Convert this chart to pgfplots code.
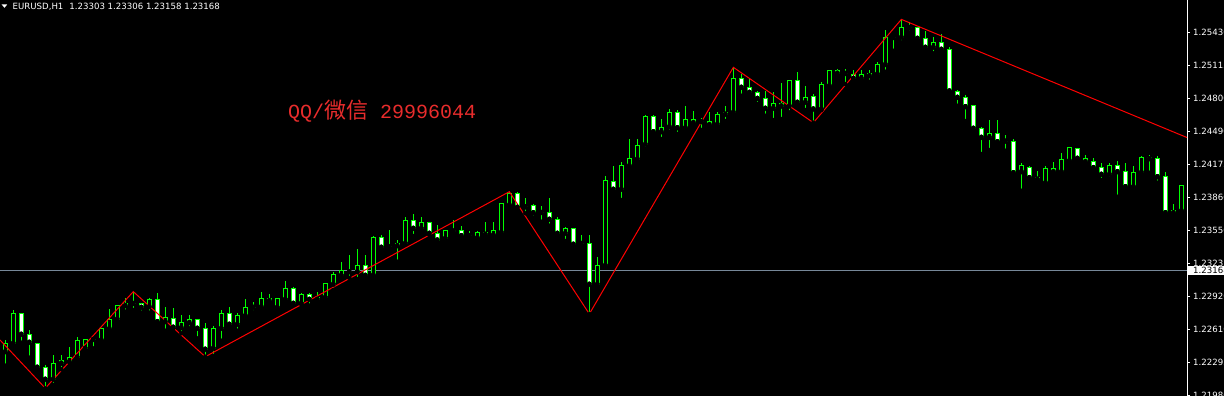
\documentclass[border=0pt]{standalone}
\usepackage{pgfplots}
\pgfplotsset{compat=1.18}
\usepackage{pgfplotstable}
\usepackage{fontspec}
\setmainfont{DejaVu Sans}
\newfontfamily\qqfont{Liberation Mono}
\newfontfamily\cjk{Noto Sans CJK SC}
\definecolor{candle}{RGB}{0,255,0}
\definecolor{zz}{RGB}{255,0,0}
\definecolor{pline}{RGB}{119,136,153}
\definecolor{wm}{RGB}{232,44,44}
\pgfplotstableread{
i o h l c
0 1.22398 1.22509 1.22265 1.22471
1 1.22478 1.22794 1.22455 1.22762
2 1.22762 1.22768 1.22483 1.22563
3 1.22563 1.22604 1.22341 1.22487
4 1.22478 1.22481 1.22240 1.22250
5 1.22250 1.22272 1.22051 1.22136
6 1.22136 1.22367 1.22082 1.22288
7 1.22310 1.22367 1.22231 1.22288
8 1.22303 1.22445 1.22300 1.22345
9 1.22345 1.22540 1.22319 1.22500
10 1.22430 1.22519 1.22398 1.22516
11 1.22516 1.22519 1.22430 1.22514
12 1.22509 1.22623 1.22500 1.22620
13 1.22616 1.22800 1.22604 1.22706
14 1.22708 1.22841 1.22692 1.22832
15 1.22835 1.22905 1.22778 1.22857
16 1.22857 1.22968 1.22794 1.22855
17 1.22857 1.22860 1.22768 1.22819
18 1.22825 1.22905 1.22768 1.22895
19 1.22895 1.22952 1.22680 1.22683
20 1.22683 1.22819 1.22597 1.22725
21 1.22715 1.22810 1.22620 1.22630
22 1.22626 1.22746 1.22573 1.22677
23 1.22673 1.22746 1.22620 1.22699
24 1.22699 1.22702 1.22525 1.22620
25 1.22620 1.22668 1.22350 1.22421
26 1.22430 1.22642 1.22357 1.22620
27 1.22620 1.22794 1.22502 1.22762
28 1.22762 1.22825 1.22635 1.22658
29 1.22658 1.22768 1.22597 1.22746
30 1.22740 1.22895 1.22740 1.22819
31 1.22819 1.22873 1.22772 1.22818
32 1.22825 1.22968 1.22803 1.22905
33 1.22905 1.22946 1.22867 1.22882
34 1.22819 1.22908 1.22817 1.22905
35 1.22895 1.23072 1.22889 1.23000
36 1.23000 1.23015 1.22848 1.22857
37 1.22857 1.22958 1.22848 1.22936
38 1.22936 1.22952 1.22835 1.22895
39 1.22895 1.22968 1.22863 1.22914
40 1.22914 1.23053 1.22905 1.23041
41 1.23038 1.23152 1.22984 1.23126
42 1.23123 1.23247 1.23119 1.23164
43 1.23157 1.23316 1.23098 1.23161
44 1.23157 1.23370 1.23088 1.23212
45 1.23212 1.23316 1.23119 1.23123
46 1.23126 1.23496 1.23110 1.23484
47 1.23484 1.23506 1.23380 1.23389
48 1.23399 1.23553 1.23385 1.23392
49 1.23404 1.23458 1.23252 1.23427
50 1.23427 1.23680 1.23420 1.23642
51 1.23642 1.23705 1.23496 1.23569
52 1.23569 1.23674 1.23531 1.23623
53 1.23623 1.23632 1.23506 1.23522
54 1.23522 1.23601 1.23442 1.23458
55 1.23474 1.23547 1.23433 1.23544
56 1.23542 1.23648 1.23537 1.23544
57 1.23553 1.23591 1.23458 1.23499
58 1.23499 1.23544 1.23465 1.23501
59 1.23480 1.23544 1.23474 1.23531
60 1.23531 1.23632 1.23506 1.23512
61 1.23506 1.23632 1.23499 1.23544
62 1.23531 1.23803 1.23522 1.23800
63 1.23791 1.23917 1.23769 1.23895
64 1.23895 1.23917 1.23743 1.23769
65 1.23776 1.23860 1.23712 1.23773
66 1.23781 1.23803 1.23670 1.23717
67 1.23721 1.23781 1.23632 1.23719
68 1.23721 1.23854 1.23594 1.23655
69 1.23655 1.23672 1.23509 1.23522
70 1.23522 1.23582 1.23449 1.23563
71 1.23563 1.23566 1.23411 1.23418
72 1.23427 1.23506 1.23385 1.23425
73 1.23427 1.23506 1.22756 1.23038
74 1.23038 1.23297 1.23006 1.23218
75 1.23218 1.24066 1.23214 1.24023
76 1.24017 1.24161 1.23907 1.23940
77 1.23940 1.24202 1.23838 1.24170
78 1.24164 1.24417 1.24154 1.24234
79 1.24227 1.24417 1.24208 1.24360
80 1.24367 1.24645 1.24322 1.24635
81 1.24635 1.24645 1.24455 1.24486
82 1.24486 1.24607 1.24417 1.24528
83 1.24534 1.24699 1.24486 1.24671
84 1.24671 1.24692 1.24465 1.24524
85 1.24524 1.24730 1.24512 1.24604
86 1.24604 1.24683 1.24534 1.24572
87 1.24581 1.24612 1.24503 1.24583
88 1.24588 1.24673 1.24541 1.24553
89 1.24557 1.24671 1.24534 1.24654
90 1.24652 1.24730 1.24588 1.24671
91 1.24671 1.25098 1.24661 1.24993
92 1.24993 1.25034 1.24828 1.24908
93 1.24908 1.24987 1.24819 1.24860
94 1.24860 1.24876 1.24749 1.24803
95 1.24803 1.24876 1.24638 1.24709
96 1.24709 1.24860 1.24597 1.24756
97 1.24756 1.24952 1.24607 1.24730
98 1.24730 1.24973 1.24671 1.24971
99 1.24971 1.25050 1.24733 1.24766
100 1.24766 1.24920 1.24692 1.24813
101 1.24819 1.24844 1.24572 1.24702
102 1.24702 1.24955 1.24692 1.24930
103 1.24923 1.25075 1.24904 1.25072
104 1.25072 1.25082 1.25009 1.25041
105 1.25041 1.25082 1.24939 1.25039
106 1.25025 1.25072 1.24971 1.24993
107 1.24993 1.25072 1.24952 1.25025
108 1.25018 1.25072 1.24961 1.25041
109 1.25034 1.25151 1.25025 1.25129
110 1.25126 1.25452 1.25056 1.25383
111 1.25383 1.25404 1.25255 1.25381
112 1.25383 1.25553 1.25335 1.25477
113 1.25477 1.25531 1.25430 1.25476
114 1.25477 1.25480 1.25341 1.25373
115 1.25373 1.25445 1.25255 1.25288
116 1.25288 1.25383 1.25231 1.25335
117 1.25335 1.25414 1.25255 1.25269
118 1.25269 1.25288 1.24835 1.24873
119 1.24868 1.24882 1.24733 1.24813
120 1.24813 1.24835 1.24588 1.24724
121 1.24737 1.24740 1.24486 1.24519
122 1.24519 1.24534 1.24275 1.24433
123 1.24433 1.24597 1.24313 1.24471
124 1.24471 1.24597 1.24389 1.24391
125 1.24398 1.24455 1.24306 1.24396
126 1.24398 1.24414 1.24085 1.24097
127 1.24107 1.24186 1.23926 1.24161
128 1.24148 1.24161 1.24028 1.24050
129 1.24054 1.24113 1.24028 1.24035
130 1.24002 1.24161 1.23999 1.24139
131 1.24139 1.24196 1.24097 1.24107
132 1.24107 1.24287 1.24097 1.24224
133 1.24211 1.24341 1.24208 1.24338
134 1.24329 1.24332 1.24231 1.24234
135 1.24234 1.24265 1.24170 1.24202
136 1.24208 1.24234 1.24107 1.24145
137 1.24148 1.24186 1.24028 1.24082
138 1.24082 1.24186 1.24037 1.24161
139 1.24161 1.24208 1.23869 1.24107
140 1.24113 1.24186 1.23926 1.23964
141 1.23964 1.24161 1.23961 1.24101
142 1.24101 1.24256 1.24075 1.24243
143 1.24230 1.24265 1.24097 1.24246
144 1.24234 1.24256 1.24002 1.24059
145 1.24059 1.24101 1.23686 1.23717
146 1.23717 1.23800 1.23680 1.23743
147 1.23736 1.23980 1.23727 1.23971
}\ohlc
\pgfplotstableread{
x y
-0.66 1.22509
5 1.22051
16 1.22968
25 1.22350
63 1.23917
73 1.22756
91 1.25098
101 1.24572
112 1.25553
147.7 1.24431
}\zigzag
\begin{document}
\begin{tikzpicture}
\path[use as bounding box] (0,0) rectangle (1224pt,396pt);
\clip (0,0) rectangle (1224pt,396pt);
\fill[black] (0,0) rectangle (1224pt,396pt);
\begin{axis}[
  at={(0pt,0pt)}, anchor=south west,
  scale only axis, width=1187pt, height=396pt,
  xmin=-0.66, xmax=147.7, ymin=1.21977, ymax=1.25737,
  axis x line=none, axis y line*=right,
  y axis line style={white, line width=1pt},
  xtick=\empty,
  ytick={1.21980,1.22295,1.22610,1.22920,1.23235,1.23550,1.23860,1.24175,1.24490,1.24800,1.25115,1.25430},
  yticklabels={1.21980,1.22295,1.22610,1.22920,1.23235,1.23550,1.23860,1.24175,1.24490,1.24800,1.25115,1.25430},
  tick align=outside, major tick length=3pt,
  ytick style={white, line width=1pt},
  yticklabel style={text=white, font=\fontsize{8.6}{10}\selectfont, anchor=west, inner sep=0pt, xshift=3pt},
  /pgf/number format/assume math mode=true,
  clip=true,
]
% current price line
\addplot[pline, line width=1pt, forget plot] coordinates {(-0.66,1.23168) (147.7,1.23168)};
% wicks
\addplot[only marks, mark=none, forget plot,
  error bars/.cd, y dir=plus, y explicit, error mark=none,
  error bar style={draw=candle, line width=1pt}]
  table[x=i, y=l, y error plus expr={\thisrow{h}-\thisrow{l}}] {\ohlc};
% body outlines
\addplot[only marks, mark=none, forget plot,
  error bars/.cd, y dir=plus, y explicit, error mark=none,
  error bar style={draw=candle, line width=5pt}]
  table[x=i, y expr={min(\thisrow{o},\thisrow{c})-0.0000475},
        y error plus expr={abs(\thisrow{c}-\thisrow{o})+0.000095}] {\ohlc};
% bear bodies (white)
\addplot[only marks, mark=none, forget plot,
  error bars/.cd, y dir=plus, y explicit, error mark=none,
  error bar style={draw=white, line width=3pt}]
  table[x=i, y expr={min(\thisrow{o},\thisrow{c})+0.0000475},
        y error plus expr={\thisrow{o}>\thisrow{c} ? max(\thisrow{o}-\thisrow{c}-0.000095,0) : 0}] {\ohlc};
% bull bodies (hollow)
\addplot[only marks, mark=none, forget plot,
  error bars/.cd, y dir=plus, y explicit, error mark=none,
  error bar style={draw=black, line width=3pt}]
  table[x=i, y expr={min(\thisrow{o},\thisrow{c})+0.0000475},
        y error plus expr={\thisrow{c}>\thisrow{o} ? max(\thisrow{c}-\thisrow{o}-0.000095,0) : 0}] {\ohlc};
% zigzag
\addplot[zz, line width=1pt, forget plot] table[x=x, y=y] {\zigzag};
\coordinate (pl) at (axis cs:147.7,1.23168);
\end{axis}
\node[fill=white, text=black, anchor=west, inner xsep=5pt, inner ysep=1.5pt, xshift=1pt,
  font=\fontsize{8.6}{10}\selectfont] at (pl) {1.23168};
\fill[white] (1.7pt,391.5pt) -- (7.2pt,391.5pt) -- (4.45pt,388.2pt) -- cycle;
\node[anchor=west, inner sep=0pt, text=white, font=\fontsize{8.6}{10}\selectfont]
  at (12.5pt,389.5pt) {EURUSD,H1\hspace{6pt}1.23303 1.23306 1.23158 1.23168};
\node[anchor=base west, inner sep=0pt, text=wm]
  at (288pt,277.5pt) {\qqfont\fontsize{20}{21}\selectfont QQ/{\cjk\fontsize{22}{23}\selectfont 微信} 29996044};
\end{tikzpicture}
\end{document}
